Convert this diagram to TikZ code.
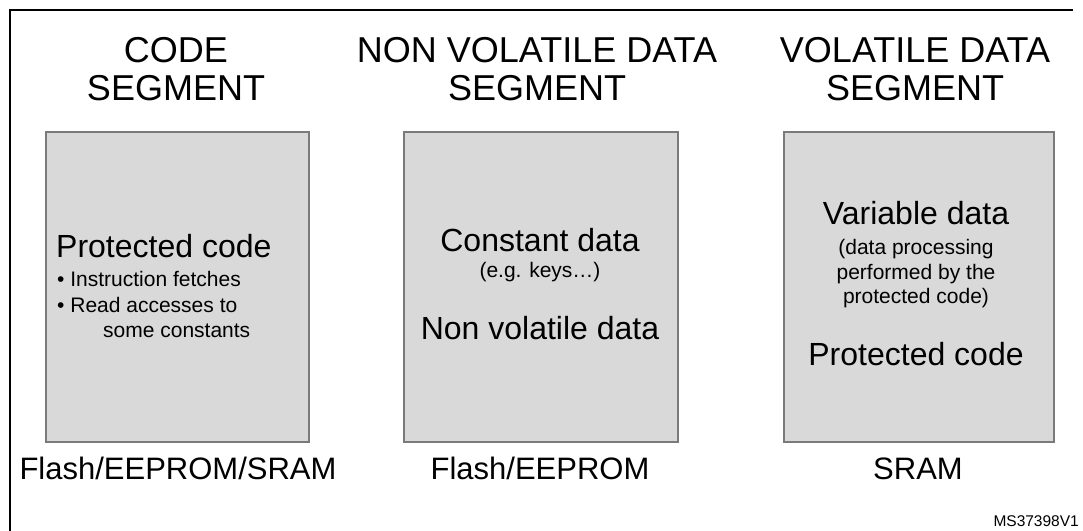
\documentclass[tikz,border=0pt]{standalone}
\usepackage{fontspec}
\setmainfont{Liberation Sans}
\definecolor{boxfill}{HTML}{D9D9D9}
\definecolor{boxline}{HTML}{7A7A7A}
\begin{document}
\begin{tikzpicture}[x=1pt,y=-1pt,
  title/.style={font=\fontsize{36}{42}\selectfont, anchor=base, inner sep=0pt},
  big/.style={font=\fontsize{32}{38}\selectfont, anchor=base, inner sep=0pt},
  label/.style={font=\fontsize{31}{37}\selectfont, anchor=base, inner sep=0pt},
  small/.style={font=\fontsize{21}{25}\selectfont, anchor=base, inner sep=0pt},
  tiny/.style={font=\fontsize{15.5}{18}\selectfont, anchor=base east, inner sep=0pt},
  segbox/.style={draw=boxline, fill=boxfill, line width=1.5pt, inner sep=0pt, anchor=north west, minimum height=310pt},
  frame/.style={line width=2.2pt, draw=black}]
\useasboundingbox (0,0) rectangle (1083,530);
\fill[white] (0,0) rectangle (1083,530);
% outer frame (open at right and bottom)
\coordinate (ftr) at (1073,10);
\coordinate (ftl) at (10,10);
\coordinate (fbl) at (10,531);
\draw[frame] (ftr) -- (ftl) -- (fbl);
% boxes
\node[segbox, minimum width=263pt] (b1) at (45,131) {};
\node[segbox, minimum width=274pt] (b2) at (403,131) {};
\node[segbox, minimum width=270pt] (b3) at (783,131) {};
% titles
\node[title] (t1a) at (176,62) {CODE};
\node[title] (t1b) at (176,100) {SEGMENT};
\node[title] (t2a) at (537,62) {NON VOLATILE DATA};
\node[title] (t2b) at (537,100) {SEGMENT};
\node[title] (t3a) at (915,62) {VOLATILE DATA};
\node[title] (t3b) at (915,100) {SEGMENT};
% box 1 contents
\node[big, anchor=base west] (p1) at (56,257) {Protected code};
\node[small, anchor=base west] (p1a) at (57,286) {\textbullet\ Instruction fetches};
\node[small, anchor=base west] (p1b) at (57,312) {\textbullet\ Read accesses to};
\node[small, anchor=base west] (p1c) at (103,337) {some constants};
% box 2 contents
\node[big] (c2) at (540,251) {Constant data};
\node[small] (c2a) at (540,277) {(e.g. keys…)};
\node[big] (n2) at (540,339) {Non volatile data};
% box 3 contents
\node[big] (v3) at (916,224) {Variable data};
\node[small] (v3a) at (916,254) {(data processing};
\node[small] (v3b) at (916,279) {performed by the};
\node[small] (v3c) at (916,303) {protected code)};
\node[big] (p3) at (916,365) {Protected code};
% memory labels
\node[label] (m1) at (178,479) {Flash/EEPROM/SRAM};
\node[label] (m2) at (540,479) {Flash/EEPROM};
\node[label] (m3) at (918,479) {SRAM};
\node[tiny] (id) at (1079,526) {MS37398V1};
\end{tikzpicture}
\end{document}
